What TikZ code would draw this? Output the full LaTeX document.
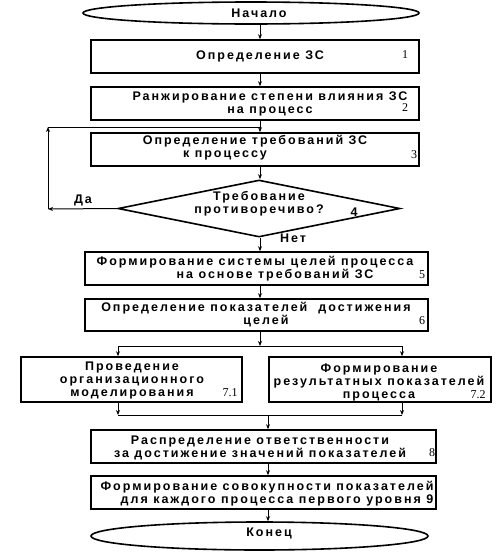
\documentclass[tikz,border=0pt]{standalone}
\usepackage{fontspec}
\setmainfont{Liberation Sans}[LetterSpace=16]
\newfontfamily\numserif{Liberation Serif}
\usetikzlibrary{shapes.geometric,arrows.meta}
\tikzset{
  txt/.style={font=\fontsize{12.5}{13}\selectfont\bfseries, align=center, inner sep=0pt},
  box/.style={draw, line width=1.6pt, inner sep=0pt},
  term/.style={draw, ellipse, line width=1.6pt, inner sep=0pt},
  num/.style={font=\fontsize{12}{13}\selectfont\numserif, inner sep=0pt},
  numsans/.style={font=\fontsize{12.5}{13}\selectfont\bfseries, inner sep=0pt},
  arr/.style={line width=1pt, -{Stealth[length=5pt,width=4pt]}},
  ln/.style={line width=1pt},
}
\begin{document}
\begin{tikzpicture}[x=1pt,y=-1pt]
\useasboundingbox (0,0) rectangle (502,552);
\coordinate (xa) at (260,0);
\coordinate (xb) at (268,0);
% shapes
\node[term, minimum width=336pt, minimum height=22pt] (start) at (251,13) {};
\node[box, minimum width=328pt, minimum height=33pt] (b1) at (255,56.5) {};
\node[box, minimum width=328pt, minimum height=33pt] (b2) at (255,103.5) {};
\node[box, minimum width=328pt, minimum height=33pt] (b3) at (255,149.5) {};
\node[diamond, draw, line width=1.6pt, minimum width=282pt, minimum height=57pt, inner sep=0pt] (d4) at (259,208.5) {};
\node[box, minimum width=343pt, minimum height=33pt] (b5) at (256.5,268.5) {};
\node[box, minimum width=343pt, minimum height=32pt] (b6) at (256.5,315) {};
\node[box, minimum width=221pt, minimum height=45pt] (b71) at (131.5,379.5) {};
\node[box, minimum width=222pt, minimum height=45pt] (b72) at (380,379.5) {};
\node[box, minimum width=345pt, minimum height=33pt] (b8) at (263.5,446.5) {};
\node[box, minimum width=345pt, minimum height=33pt] (b9) at (263.5,492.5) {};
\node[term, minimum width=337pt, minimum height=28pt] (end) at (259.5,536) {};
% texts
\node[txt] (t0) at (259,13) {Начало};
\node[txt] (t1) at (260,56) {Определение ЗС};
\node[num] (n1) at (405,55) {1};
\node[txt] (t2) at (270,104) {Ранжирование степени влияния ЗС\\на процесс};
\node[num] (n2) at (405,108) {2};
\node[txt] (t3) at (255,148) {Определение требований ЗС\\\hspace*{-60pt}к процессу};
\node[num] (n3) at (414,155) {3};
\node[txt] (t4) at (259,204) {Требование\\противоречиво?};
\node[numsans] (n4) at (354,212) {4};
\node[txt] (t5) at (255,269) {Формирование системы целей процесса\\\hspace*{40pt}на основе требований ЗС};
\node[num] (n5) at (422,275) {5};
\node[txt] (t6) at (256,315) {Определение показателей\ \ достижения\\\hspace*{20pt}целей};
\node[num] (n6) at (422,321) {6};
\node[txt] (t71) at (132,380) {Проведение\\организационного\\моделирования};
\node[num] (n71) at (230,393) {7.1};
\node[txt] (t72) at (379,382) {Формирование\\результатных показателей\\процесса};
\node[num] (n72) at (478,395) {7.2};
\node[txt] (t8) at (260,448) {Распределение ответственности\\за достижение значений показателей};
\node[num] (n8) at (432,453) {8};
\node[txt] (t9) at (267,494) {Формирование совокупности показателей\\\hspace*{20pt}для каждого процесса первого уровня 9};
\node[txt] (t10) at (269,533) {Конец};
\node[txt] (yes) at (83,200) {Да};
\node[txt] (no) at (293,238) {Нет};
% connectors
\coordinate (c1) at (48,209);
\coordinate (c2) at (48,127);
\coordinate (c3) at (260,127);
\coordinate (s1) at (118,346);
\coordinate (s2) at (402,346);
\coordinate (sm) at (260,346);
\coordinate (m1) at (118,415);
\coordinate (m2) at (402,415);
\coordinate (mm) at (268,415);
\draw[arr] (start.south -| xa) -- (b1.north -| xa);
\draw[arr] (b1.south -| xa) -- (b2.north -| xa);
\draw[arr] (b2.south -| xa) -- (b3.north -| xa);
\draw[arr] (b3.south -| xa) -- (d4.north -| xa);
\draw[arr] (d4.west) -- (c1);
\draw[arr] (c1) -- (c2);
\draw[ln] (c2) -- (c3);
\draw[arr] (d4.south -| xa) -- (b5.north -| xa);
\draw[arr] (b5.south -| xa) -- (b6.north -| xa);
\draw[arr] (b6.south -| xa) -- (sm);
\draw[ln] (s1) -- (s2);
\draw[arr] (s1) -- (b71.north -| s1);
\draw[arr] (s2) -- (b72.north -| s2);
\draw[arr] (b71.south -| m1) -- (m1);
\draw[arr] (b72.south -| m2) -- (m2);
\draw[ln] (m1) -- (m2);
\draw[arr] (mm) -- (b8.north -| xb);
\draw[arr] (b8.south -| xb) -- (b9.north -| xb);
\draw[arr] (b9.south -| xb) -- (end.north -| xb);
\end{tikzpicture}
\end{document}
